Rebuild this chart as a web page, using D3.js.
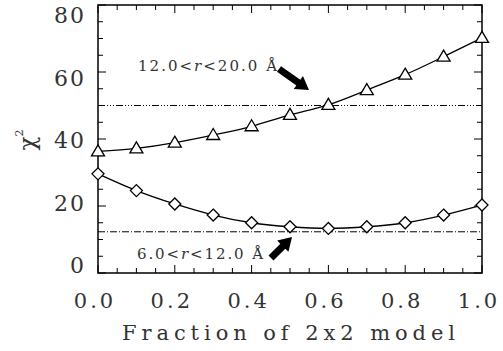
<!DOCTYPE html>
<html>
<head>
<meta charset="utf-8">
<script src="https://cdn.jsdelivr.net/npm/d3@7"></script>
<style>
  body { margin: 0; background: #fff; }
  text { font-family: "DejaVu Serif", serif; fill: #333; }
</style>
</head>
<body>
<svg id="canvas" width="503" height="351"></svg>
<script>
// data
const fractions = [0.0, 0.1, 0.2, 0.3, 0.4, 0.5, 0.6, 0.7, 0.8, 0.9, 1.0];
const chiOuter = [36.3, 37.2, 38.9, 41.2, 43.8, 47.2, 50.2, 54.6, 59.2, 64.6, 70.2];   // 12.0<r<20.0, triangles
const chiInner = [29.6, 24.6, 20.6, 17.3, 15.0, 13.8, 13.3, 13.8, 15.0, 17.3, 20.3];   // 6.0<r<12.0, diamonds
const refLevels = [50, 12.3];
const xTicks = [0, 0.2, 0.4, 0.6, 0.8, 1.0];
const yTicks = [0, 20, 40, 60, 80];

const svg = d3.select("#canvas");

let x = d3.scaleLinear().domain([0, 1]).range([98, 482]);
let y = d3.scaleLinear().domain([0, 80]).range([273, 5]);
// tick labels sit a little inside the end ticks, like the original plot package did
let yLab = d3.scaleLinear().domain([0, 80]).range([265, 15]);

// frame
svg.append("rect")
  .attr("x", x(0)).attr("y", y(80))
  .attr("width", x(1) - x(0)).attr("height", y(0) - y(80))
  .attr("fill", "none").attr("stroke", "#000").attr("stroke-width", 1.5);

// inward ticks on all four sides
let g = svg.append("g").attr("stroke", "#000").attr("stroke-width", 1);
d3.range(0, 1.0001, 0.05).forEach(v => {
  let major = Math.abs(Math.round(v * 10) - v * 10) < 1e-6 && Math.round(v * 10) % 2 == 0;
  let len = major ? 8 : 5;
  g.append("line").attr("x1", x(v)).attr("x2", x(v)).attr("y1", y(0)).attr("y2", y(0) - len);
  g.append("line").attr("x1", x(v)).attr("x2", x(v)).attr("y1", y(80)).attr("y2", y(80) + len);
});
d3.range(0, 80.001, 5).forEach(v => {
  let len = v % 20 == 0 ? 8 : 5;
  g.append("line").attr("y1", y(v)).attr("y2", y(v)).attr("x1", x(0)).attr("x2", x(0) + len);
  g.append("line").attr("y1", y(v)).attr("y2", y(v)).attr("x1", x(1)).attr("x2", x(1) - len);
});

// tick labels
svg.selectAll(".xl").data(xTicks).enter().append("text")
  .attr("x", d => x(d) - 3).attr("y", 308)
  .attr("text-anchor", "middle").attr("font-size", 21)
  .attr("letter-spacing", 3)
  .text(d => d.toFixed(1));

svg.selectAll(".yl").data(yTicks).enter().append("text")
  .attr("x", 86).attr("y", d => yLab(d) + 8)
  .attr("text-anchor", "end").attr("font-size", 22)
  .attr("letter-spacing", 2)
  .text(d => d);

// axis titles
svg.append("text")
  .attr("x", 122).attr("y", 340)
  .attr("font-size", 21)
  .attr("textLength", 333).attr("lengthAdjust", "spacing")
  .text("Fraction of 2x2 model");

let yt = svg.append("text")
  .attr("transform", "translate(35,140) rotate(-90)")
  .attr("text-anchor", "middle").attr("font-size", 23);
yt.append("tspan").text("χ");
yt.append("tspan").attr("font-size", 11).attr("dy", -12).text("2");

// reference levels
svg.append("line")
  .attr("x1", x(0)).attr("x2", x(1)).attr("y1", y(refLevels[0])).attr("y2", y(refLevels[0]))
  .attr("stroke", "#000").attr("stroke-width", 1).attr("stroke-dasharray", "7,2,1,2,1,2,1,2");
svg.append("line")
  .attr("x1", x(0)).attr("x2", x(1)).attr("y1", y(refLevels[1])).attr("y2", y(refLevels[1]))
  .attr("stroke", "#000").attr("stroke-width", 1).attr("stroke-dasharray", "7,2,1,2");

// curves
let line = d3.line()
  .x((d, i) => x(fractions[i]))
  .y(d => y(d))
  .curve(d3.curveNatural);

[chiOuter, chiInner].forEach(s => {
  svg.append("path").datum(s)
    .attr("d", line)
    .attr("fill", "none").attr("stroke", "#000").attr("stroke-width", 1.3);
});

// markers
svg.selectAll(".tri").data(chiOuter).enter().append("path")
  .attr("transform", (d, i) => `translate(${x(fractions[i])},${y(d)})`)
  .attr("d", "M0,-6.5L6.5,4.5L-6.5,4.5Z")
  .attr("fill", "#fff").attr("stroke", "#000").attr("stroke-width", 1.3);

svg.selectAll(".dia").data(chiInner).enter().append("path")
  .attr("transform", (d, i) => `translate(${x(fractions[i])},${y(d)})`)
  .attr("d", "M0,-6L6,0L0,6L-6,0Z")
  .attr("fill", "#fff").attr("stroke", "#000").attr("stroke-width", 1.3);

// annotations
function label(x0, y0, len, parts) {
  let t = svg.append("text").attr("x", x0).attr("y", y0).attr("font-size", 15)
    .attr("textLength", len).attr("lengthAdjust", "spacing");
  parts.forEach(p => {
    let s = t.append("tspan").text(p[0]);
    if (p[1]) s.attr("font-style", "italic");
  });
}
label(138, 71, 139, [["12.0<"], ["r", 1], ["<20.0 Å"]]);
label(137, 259, 126, [["6.0<"], ["r", 1], ["<12.0 Å"]]);

function arrow(x1, y1, x2, y2) {
  let a = Math.atan2(y2 - y1, x2 - x1), L = Math.hypot(x2 - x1, y2 - y1);
  let hl = 13, hw = 8, sw = 3.5;
  let pts = [[0, -sw], [L - hl, -sw], [L - hl, -hw], [L, 0], [L - hl, hw], [L - hl, sw], [0, sw]];
  svg.append("path")
    .attr("transform", `translate(${x1},${y1}) rotate(${a * 180 / Math.PI})`)
    .attr("d", "M" + pts.join("L") + "Z")
    .attr("fill", "#000");
}
arrow(279, 69, 309, 90);
arrow(271, 258, 292, 237);
</script>
</body>
</html>
